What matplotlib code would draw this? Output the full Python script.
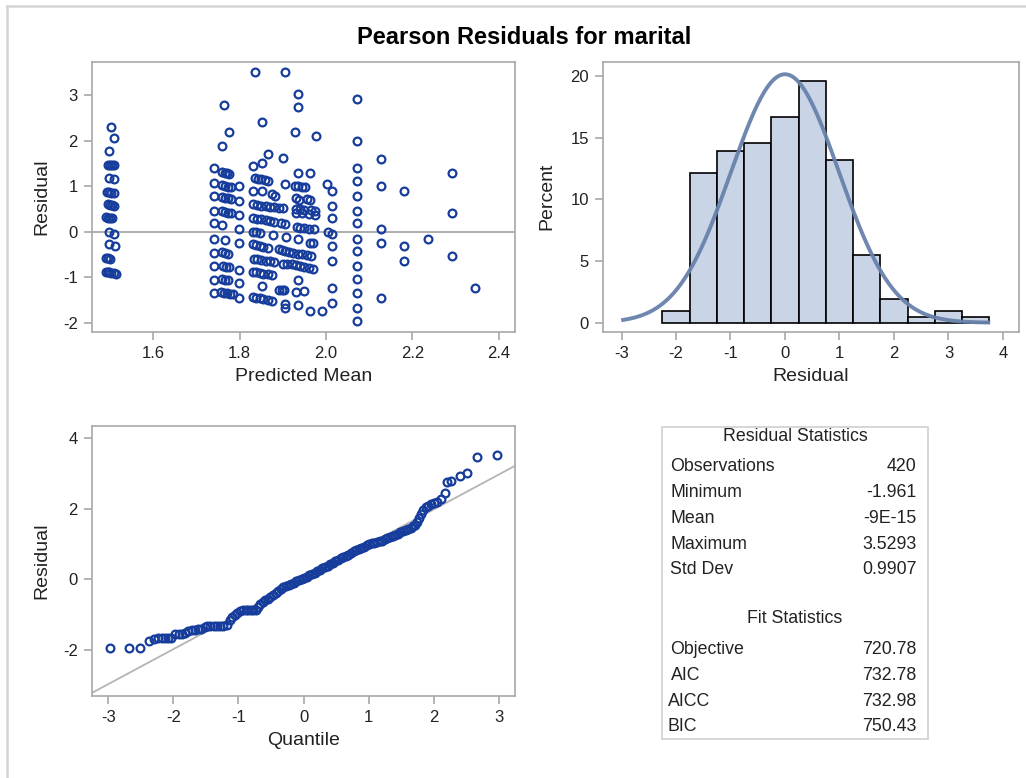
import matplotlib
matplotlib.use("Agg")
from matplotlib import pyplot as plt
from matplotlib.patches import Rectangle
from matplotlib.lines import Line2D
import numpy as np

plt.rcParams['font.family'] = ['Liberation Sans', 'DejaVu Sans']
plt.rcParams['axes.unicode_minus'] = False

# --- scatter: predicted mean vs Pearson residual ---
pm_a = [1.502, 1.51, 1.498, 1.495, 1.50, 1.505, 1.51, 1.497, 1.51, 1.492, 1.497, 1.502,
        1.508, 1.494, 1.499, 1.504, 1.509, 1.49, 1.495, 1.50, 1.505, 1.497, 1.51, 1.497,
        1.511, 1.49, 1.495, 1.50, 1.49, 1.494, 1.498, 1.503, 1.508, 1.513]
res_a = [2.31, 2.07, 1.78, 1.47, 1.47, 1.47, 1.47, 1.17, 1.15, 0.88, 0.87, 0.86,
         0.85, 0.60, 0.59, 0.58, 0.57, 0.32, 0.31, 0.30, 0.29, 0.0, -0.04, -0.27,
         -0.31, -0.57, -0.58, -0.59, -0.88, -0.89, -0.89, -0.90, -0.91, -0.92]

pm_b = [1.741, 1.741, 1.741, 1.741, 1.741, 1.741, 1.741, 1.741, 1.741, 1.741,
        1.763, 1.775, 1.76, 1.76, 1.765, 1.77, 1.775, 1.758, 1.765, 1.772, 1.78,
        1.76, 1.767, 1.774, 1.78, 1.758, 1.765, 1.772, 1.78, 1.76, 1.767,
        1.76, 1.767, 1.774, 1.762, 1.768, 1.775, 1.76, 1.767, 1.774,
        1.756, 1.763, 1.77, 1.777, 1.784,
        1.798, 1.798, 1.798, 1.798, 1.798, 1.798, 1.798, 1.798]
res_b = [1.39, 1.06, 0.78, 0.46, 0.18, -0.15, -0.46, -0.75, -1.06, -1.35,
         2.78, 2.18, 1.89, 1.32, 1.30, 1.28, 1.26, 1.02, 1.00, 0.99, 0.98,
         0.76, 0.74, 0.73, 0.72, 0.45, 0.43, 0.42, 0.41, 0.15, -0.18,
         -0.45, -0.46, -0.48, -0.76, -0.77, -0.78, -1.05, -1.06, -1.07,
         -1.33, -1.34, -1.35, -1.36, -1.37,
         1.0, 0.68, 0.37, 0.07, -0.24, -0.84, -1.13, -1.45]

pm_c = [1.835, 1.906, 1.936, 1.936, 1.851, 1.928, 1.977, 1.866, 1.90, 1.831, 1.851, 1.936, 1.963,
        1.835, 1.842, 1.85, 1.858, 1.866, 1.905,
        1.928, 1.935, 1.945, 1.951, 2.001,
        1.831, 1.851, 1.874, 1.882,
        1.93, 1.937, 1.955, 1.963,
        1.831, 1.84, 1.85, 1.86, 1.87, 1.88, 1.89, 1.90,
        1.93, 1.94, 1.95, 1.965, 1.975,
        1.93, 1.945, 1.96, 1.975,
        1.831, 1.84, 1.85, 1.86, 1.87, 1.88, 1.895, 1.905,
        1.932, 1.94, 1.95, 1.96, 1.972,
        1.83, 1.838, 1.846, 1.878, 1.908, 2.004,
        1.936, 1.963, 1.97,
        1.83, 1.838, 1.847, 1.855, 1.865,
        1.89, 1.898, 1.906, 1.915, 1.923, 1.935, 1.945, 1.955, 1.965,
        1.832, 1.84, 1.85, 1.86, 1.87, 1.88,
        1.90, 1.91, 1.92, 1.93, 1.94, 1.95, 1.96, 1.97,
        1.83, 1.838, 1.846, 1.855, 1.865, 1.875,
        1.936,
        1.851, 1.89, 1.897, 1.903, 1.93, 1.95,
        1.83, 1.838, 1.846, 1.855, 1.865, 1.875,
        1.905, 1.905, 1.936, 1.963, 1.99]
res_c = [3.52, 3.52, 3.03, 2.73, 2.42, 2.18, 2.10, 1.71, 1.63, 1.45, 1.50, 1.28, 1.28,
         1.18, 1.16, 1.15, 1.13, 1.11, 1.05,
         1.0, 1.0, 0.99, 0.98, 1.04,
         0.89, 0.89, 0.82, 0.78,
         0.73, 0.70, 0.72, 0.70,
         0.60, 0.58, 0.57, 0.56, 0.55, 0.54, 0.53, 0.52,
         0.50, 0.49, 0.48, 0.47, 0.46,
         0.41, 0.40, 0.39, 0.37,
         0.29, 0.28, 0.27, 0.25, 0.23, 0.21, 0.19, 0.17,
         0.10, 0.09, 0.08, 0.07, 0.05,
         0.0, 0.0, -0.02, -0.07, -0.11, 0.0,
         -0.17, -0.24, -0.25,
         -0.28, -0.30, -0.32, -0.34, -0.36,
         -0.38, -0.40, -0.42, -0.44, -0.46, -0.48, -0.50, -0.52, -0.53,
         -0.60, -0.61, -0.62, -0.64, -0.65, -0.66,
         -0.70, -0.71, -0.72, -0.74, -0.76, -0.78, -0.80, -0.82,
         -0.88, -0.89, -0.90, -0.92, -0.94, -0.95,
         -1.06,
         -1.19, -1.28, -1.28, -1.29, -1.33, -1.30,
         -1.44, -1.45, -1.46, -1.48, -1.50, -1.52,
         -1.60, -1.68, -1.62, -1.74, -1.74]

pm_d = [2.014] * 8 + [2.071] * 14 + [2.127] * 5 + [2.18] * 3 + [2.236] + [2.292] * 3 + [2.345]
res_d = [0.89, 0.57, 0.29, -0.04, -0.31, -0.64, -1.24, -1.56,
         2.92, 1.99, 1.39, 1.11, 0.78, 0.46, 0.18, -0.15, -0.42, -0.75, -1.03, -1.35, -1.67, -1.96,
         1.60, 1.0, 0.07, -0.25, -1.45,
         0.89, -0.31, -0.64,
         -0.15,
         1.28, 0.40, -0.53,
         -1.24]

# --- histogram of residuals (percent per bin, bin width 0.5) ---
bin_mid = [-2.0, -1.5, -1.0, -0.5, 0.0, 0.5, 1.0, 1.5, 2.0, 2.5, 3.0, 3.5]
bin_pct = [0.95, 12.1, 13.9, 14.6, 16.7, 19.6, 13.2, 5.5, 1.9, 0.45, 0.95, 0.45]

# --- normal QQ plot ---
qq_quant = [-2.98, -2.68, -2.51, -2.38, -2.30, -2.23, -2.18, -2.13, -2.08, -2.03, -1.97, -1.92,
            -1.87, -1.82, -1.77, -1.72, -1.67, -1.62, -1.57, -1.52, -1.48, -1.43, -1.38, -1.33,
            -1.28, -1.23, -1.18, -1.13, -1.10, -1.06, -1.02, -0.97, -0.93, -0.89, -0.85, -0.81,
            -0.77, -0.73, -0.70, -0.67, -0.63, -0.59, -0.55, -0.51, -0.47, -0.43, -0.39, -0.35,
            -0.31, -0.27, -0.23, -0.19, -0.15, -0.11, -0.07, -0.03, 0.01, 0.05, 0.09, 0.13,
            0.17, 0.21, 0.25, 0.29, 0.33, 0.37, 0.41, 0.45, 0.49, 0.53, 0.57, 0.61, 0.65,
            0.69, 0.73, 0.77, 0.81, 0.85, 0.89, 0.93, 0.97, 1.01, 1.05, 1.09, 1.13, 1.17,
            1.21, 1.25, 1.29, 1.33, 1.37, 1.41, 1.45, 1.49, 1.53, 1.57, 1.61, 1.65, 1.69,
            1.72, 1.75, 1.78, 1.81, 1.84, 1.88, 1.92, 1.96, 2.00, 2.05, 2.11, 2.18, 2.21,
            2.26, 2.40, 2.52, 2.66, 2.98]
qq_resid = [-1.94, -1.94, -1.94, -1.74, -1.69, -1.67, -1.67, -1.67, -1.67, -1.66, -1.56, -1.56,
            -1.55, -1.53, -1.46, -1.45, -1.44, -1.42, -1.40, -1.36, -1.33, -1.33, -1.33, -1.33,
            -1.33, -1.32, -1.30, -1.15, -1.08, -1.02, -0.96, -0.89, -0.88, -0.87, -0.87, -0.87,
            -0.87, -0.86, -0.78, -0.70, -0.65, -0.60, -0.55, -0.49, -0.45, -0.40, -0.34, -0.28,
            -0.22, -0.19, -0.16, -0.13, -0.09, -0.06, -0.03, 0.01, 0.04, 0.08, 0.12, 0.15,
            0.19, 0.23, 0.27, 0.31, 0.35, 0.39, 0.43, 0.47, 0.51, 0.55, 0.60, 0.63, 0.66,
            0.70, 0.74, 0.79, 0.83, 0.87, 0.90, 0.93, 0.97, 1.00, 1.02, 1.04, 1.06, 1.08,
            1.10, 1.13, 1.17, 1.20, 1.23, 1.26, 1.30, 1.33, 1.37, 1.40, 1.43, 1.47, 1.50,
            1.53, 1.62, 1.74, 1.84, 1.97, 2.04, 2.09, 2.13, 2.17, 2.20, 2.28, 2.46, 2.75,
            2.79, 2.93, 3.02, 3.48, 3.53]

# --- statistics tables ---
resid_labels = ['Observations', 'Minimum', 'Mean', 'Maximum', 'Std Dev']
resid_values = ['420', '-1.961', '-9E-15', '3.5293', '0.9907']
fit_labels = ['Objective', 'AIC', 'AICC', 'BIC']
fit_values = ['720.78', '732.78', '732.98', '750.43']
resid_mean = -9e-15
resid_std = 0.9907

W, H = 1026, 778
fig = plt.figure(figsize=(W / 100, H / 100), dpi=100)

marker_col = '#163c9c'
spine_col = '#a8a8a8'
text_col = '#222222'
tick_fs = 12
label_fs = 14


def px_axes(l, t, r, b):
    return fig.add_axes([l / W, 1 - b / H, (r - l) / W, (b - t) / H])


def style(ax):
    for s in ax.spines.values():
        s.set_color(spine_col)
        s.set_linewidth(1.2)
    ax.tick_params(direction='out', length=6, width=1.2, color=spine_col,
                   labelsize=tick_fs, labelcolor=text_col, pad=4)


def circles(ax, x, y):
    ax.plot(x, y, 'o', ms=5.6, mfc='none', mec=marker_col, mew=1.6, zorder=3)


# scatter
ax1 = px_axes(91.7, 61.7, 515, 331.7)
style(ax1)
ax1.axhline(0, color='#a0a0a0', lw=1.2, zorder=1)
circles(ax1, pm_a + pm_b + pm_c + pm_d, res_a + res_b + res_c + res_d)
ax1.set_xlim(1.4574, 2.4373)
ax1.set_ylim(-2.198, 3.736)
ax1.set_xticks([1.6, 1.8, 2.0, 2.2, 2.4])
ax1.set_yticks([-2, -1, 0, 1, 2, 3])
ax1.set_xlabel('Predicted Mean', fontsize=label_fs, color=text_col, labelpad=5)
ax1.set_ylabel('Residual', fontsize=label_fs, color=text_col, labelpad=9)

# histogram
ax2 = px_axes(602.7, 61.7, 1019, 331.7)
style(ax2)
ax2.bar(bin_mid, bin_pct, width=0.5, color='#c9d5e6', edgecolor='black', lw=1.2, zorder=2)
xs = np.linspace(-2.97, 3.73, 200)
dens = 100 * 0.5 / (resid_std * np.sqrt(2 * np.pi)) * np.exp(-0.5 * ((xs - resid_mean) / resid_std) ** 2)
ax2.plot(xs, dens, color='#6882ab', lw=2.8, alpha=0.95, zorder=3)
ax2.set_xlim(-3.345, 4.294)
ax2.set_ylim(-0.73, 21.15)
ax2.set_xticks([-3, -2, -1, 0, 1, 2, 3, 4])
ax2.set_yticks([0, 5, 10, 15, 20])
ax2.set_xlabel('Residual', fontsize=label_fs, color=text_col, labelpad=5)
ax2.set_ylabel('Percent', fontsize=label_fs, color=text_col, labelpad=11)

# QQ plot
ax3 = px_axes(91.7, 426, 515, 696)
style(ax3)
ax3.set_xlim(-3.255, 3.25)
ax3.set_ylim(-3.31, 4.35)
ln = np.array([-3.4, 3.4])
ax3.plot(ln, resid_mean + resid_std * ln, color='#b4b4b4', lw=1.3, zorder=1)
circles(ax3, qq_quant, qq_resid)
ax3.set_xticks([-3, -2, -1, 0, 1, 2, 3])
ax3.set_yticks([-2, 0, 2, 4])
ax3.set_xlabel('Quantile', fontsize=label_fs, color=text_col, labelpad=5)
ax3.set_ylabel('Residual', fontsize=label_fs, color=text_col, labelpad=9)

# statistics box
fig.patches.append(Rectangle((662.3 / W, 1 - 739.3 / H), (927.7 - 662.3) / W, (739.3 - 426.7) / H,
                             transform=fig.transFigure, fill=False, edgecolor='#d0d0d0', lw=1.2))
tfs = 12.8
fig.text(795 / W, 1 - 436.7 / H, 'Residual Statistics', ha='center', va='center', fontsize=tfs, color=text_col)
row_y = [466.7, 492.7, 518.7, 544.3, 570]
for lab, val, yy in zip(resid_labels, resid_values, row_y):
    fig.text(670 / W, 1 - yy / H, lab, ha='left', va='center', fontsize=tfs, color=text_col)
    fig.text(916.7 / W, 1 - yy / H, val, ha='right', va='center', fontsize=tfs, color=text_col)
fig.text(795 / W, 1 - 618.3 / H, 'Fit Statistics', ha='center', va='center', fontsize=tfs, color=text_col)
fit_y = [649.3, 675, 701, 726.7]
fit_x = [670, 671, 668.3, 667.7]
for lab, val, yy, xx in zip(fit_labels, fit_values, fit_y, fit_x):
    fig.text(xx / W, 1 - yy / H, lab, ha='left', va='center', fontsize=tfs, color=text_col)
    fig.text(916.7 / W, 1 - yy / H, val, ha='right', va='center', fontsize=tfs, color=text_col)

# outer frame (left and top edges)
fig.add_artist(Line2D([7 / W, 7 / W], [0, 1 - 6 / H], transform=fig.transFigure, color='#d4d4d4', lw=1.8))
fig.add_artist(Line2D([7 / W, 1], [1 - 6 / H, 1 - 6 / H], transform=fig.transFigure, color='#d4d4d4', lw=1.8))

fig.text(524 / W, 1 - 38 / H, 'Pearson Residuals for marital', ha='center', va='center',
         fontsize=17, fontweight='bold', color='black')

fig.savefig('out.png', dpi=100)
